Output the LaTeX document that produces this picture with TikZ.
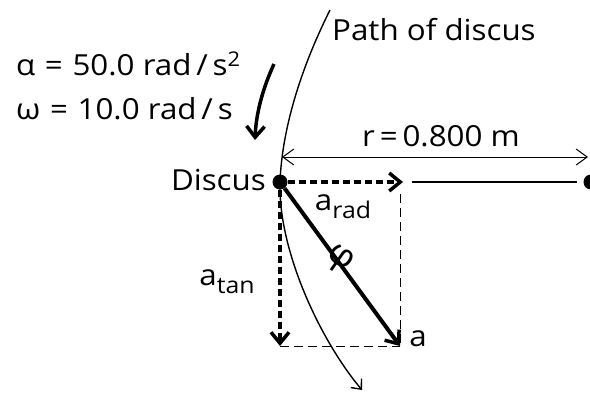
\documentclass[tikz,border=0pt]{standalone}
\usepackage{fontspec}
\setmainfont{Open Sans}[FakeStretch=1.08]
\usetikzlibrary{arrows.meta}
\newcommand\mysub[1]{\raisebox{-8pt}{\fontsize{23}{26}\selectfont #1}}
\begin{document}
\begin{tikzpicture}[x=1pt,y=-1pt,
  lbl/.style={font=\fontsize{29}{34}\selectfont, inner sep=0pt},
  vec/.style={line width=4pt, -{Straight Barb[length=11pt,width=18pt,line width=3.5pt]}},
  dvec/.style={line width=4pt, dash pattern=on 7pt off 4pt, -{Straight Barb[length=11pt,width=18pt,line width=3.5pt]}},
  guide/.style={line width=1pt, dash pattern=on 9pt off 5pt},
  thin/.style={line width=1.4pt},
  dot/.style={circle, fill=black, inner sep=0pt, minimum size=15pt}]
\useasboundingbox (0,0) rectangle (590,392);
% points
\node[dot] (d) at (280,182) {};
\node[dot] (e) at (591,182) {};
\coordinate (rt) at (403,182);
\coordinate (rl) at (412,182);
\coordinate (re) at (577,182);
\coordinate (c) at (400,346);
\coordinate (tb) at (280,346);
\coordinate (g1) at (400,194);
\coordinate (dl) at (282,157);
\coordinate (dr) at (588,157);
% path of discus
\coordinate (p0) at (330,10);
\coordinate (p1) at (362,390);
\draw[thin, -{Straight Barb[length=8pt,width=14pt,line width=1.4pt]}] (p0) .. controls (300,70) and (282,130) .. (d.center) .. controls (278,250) and (320,340) .. (p1);
% guides
\draw[guide] (g1) -- (c);
\draw[guide] (tb) -- (c);
% radius line
\draw[line width=1.6pt] (rl) -- (re);
% dimension
\draw[line width=1pt, {Straight Barb[length=11pt,width=16pt,line width=1pt]}-{Straight Barb[length=11pt,width=16pt,line width=1pt]}] (dl) -- (dr);
\node[lbl] (rlab) at (441,136) {r\,=\,0.800 m};
% vectors
\draw[dvec] (d) -- (rt);
\draw[dvec] (d) -- (tb);
\draw[vec] (d) -- (c);
% labels
\node[lbl] (arad) at (343,207) {a\mysub{rad}};
\node[lbl] (atan) at (227,282) {a\mysub{tan}};
\node[lbl] (alab) at (418,339) {a};
\node[lbl, rotate=-35, font=\fontsize{34}{38}\selectfont] (phi) at (339,260) {φ};
\node[lbl, anchor=east] (disc) at (266,180) {Discus};
\node[lbl, anchor=west] (path) at (332,30) {Path of discus};
\node[lbl, anchor=west] (al) at (16,64) {α\,\,=\,\,50.0 rad\,/\,s\textsuperscript{2}};
\node[lbl, anchor=west] (om) at (16,109) {ω\,\,=\,\,10.0 rad\,/\,s};
% rotation arrow
\coordinate (a0) at (274,64);
\coordinate (a1) at (255,140);
\draw[line width=3.5pt, -{Straight Barb[length=11pt,width=18pt,line width=3.5pt]}] (a0) .. controls (262,90) and (256,115) .. (a1);
\end{tikzpicture}
\end{document}
